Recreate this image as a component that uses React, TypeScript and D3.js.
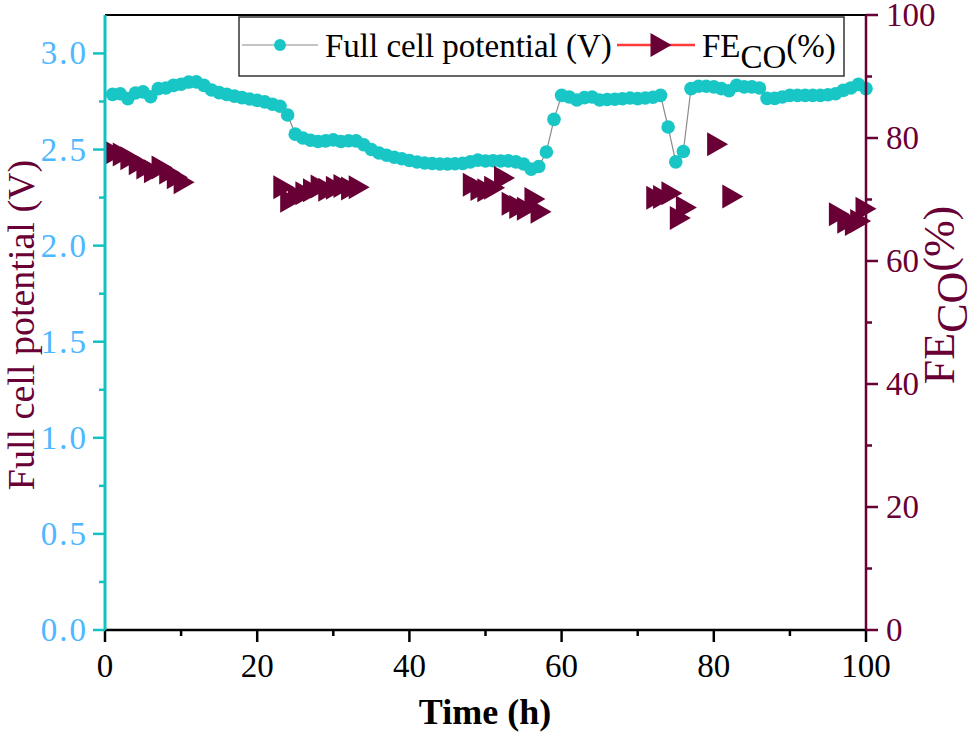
import React from 'react';
import * as d3 from 'd3';

// Full cell potential (V), hourly readings
const potTime = [
  1, 2, 3, 4, 5, 6, 7, 8, 9, 10, 11, 12, 13, 14, 15, 16, 17, 18, 19, 20,
  21, 22, 23, 24, 25, 26, 27, 28, 29, 30, 31, 32, 33, 34, 35, 36, 37, 38, 39, 40,
  41, 42, 43, 44, 45, 46, 47, 48, 49, 50, 51, 52, 53, 54, 55, 56, 57, 58, 59, 60,
  61, 62, 63, 64, 65, 66, 67, 68, 69, 70, 71, 72, 73, 74, 75, 76, 77, 78, 79, 80,
  81, 82, 83, 84, 85, 86, 87, 88, 89, 90, 91, 92, 93, 94, 95, 96, 97, 98, 99, 100,
];
const potV = [
  2.787, 2.79, 2.765, 2.794, 2.8, 2.775, 2.817, 2.82, 2.834, 2.84,
  2.851, 2.852, 2.834, 2.81, 2.796, 2.787, 2.778, 2.77, 2.763, 2.756,
  2.748, 2.736, 2.725, 2.68, 2.58, 2.56, 2.548, 2.542, 2.545, 2.55,
  2.542, 2.546, 2.545, 2.525, 2.5, 2.482, 2.47, 2.46, 2.452, 2.443,
  2.435, 2.43, 2.427, 2.425, 2.425, 2.426, 2.428, 2.436, 2.445, 2.44,
  2.442, 2.44, 2.441, 2.436, 2.425, 2.398, 2.412, 2.487, 2.657, 2.782,
  2.773, 2.758, 2.77, 2.773, 2.758, 2.76, 2.762, 2.764, 2.768, 2.765,
  2.768, 2.772, 2.782, 2.617, 2.436, 2.49, 2.817, 2.829, 2.829, 2.826,
  2.817, 2.806, 2.834, 2.826, 2.826, 2.82, 2.766, 2.766, 2.773, 2.782,
  2.782, 2.782, 2.782, 2.782, 2.785, 2.79, 2.808, 2.82, 2.839, 2.817,
];

// Faradaic efficiency of CO (%)
const feTime = [
  1.4, 2.4, 3.4, 4.5, 5.5, 6.5, 7.5, 8.5, 9.5, 10.4,
  23.5, 24.4, 25.4, 26.4, 27.4, 28.4, 29.4, 30.4, 31.4, 32.4, 33.4,
  48.4, 49.4, 50.3, 51.2, 52.5, 53.5, 54.5, 55.5, 56.5, 57.3,
  72.5, 73.4, 74.5, 75.6, 76.4, 80.5, 82.5,
  96.5, 97.6, 98.6, 99.3, 100,
];
const feVal = [
  77.6, 77.3, 76.7, 75.9, 75.2, 74.6, 75.2, 74.4, 73.6, 72.8,
  72.0, 69.8, 70.6, 71.0, 71.5, 72.1, 71.6, 71.9, 72.2, 71.8, 72.0,
  72.4, 71.7, 71.5, 71.9, 73.5, 69.3, 68.8, 68.5, 70.1, 68.0,
  70.3, 70.4, 71.0, 67.0, 68.7, 79.0, 70.5,
  67.6, 66.4, 66.0, 66.5, 68.5,
];

const xTicks = [0, 20, 40, 60, 80, 100];
const xMinor = [10, 30, 50, 70, 90];
const leftTicks = [0, 0.5, 1.0, 1.5, 2.0, 2.5, 3.0];
const leftMinor = [0.25, 0.75, 1.25, 1.75, 2.25, 2.75];
const rightTicks = [0, 20, 40, 60, 80, 100];
const rightMinor = [10, 30, 50, 70, 90];

const FONT = '"Liberation Serif", "Times New Roman", serif';
const CYAN = '#19c6c6';
const CYAN_AXIS = '#12c2c2';
const BLUE_LABEL = '#4db8ff';
const MAROON = '#680036';
const RED = '#ff3b3b';

export default function App() {
  const left = 105, right = 866, top = 15, bottom = 630;
  const x = d3.scaleLinear().domain([0, 100]).range([left, right]);
  const yL = d3.scaleLinear().domain([0, 3.2]).range([bottom, top]);
  const yR = d3.scaleLinear().domain([0, 100]).range([bottom, top]);

  const potPts: [number, number][] = potTime.map((t, i) => [x(t), yL(potV[i])]);
  const linePath = d3.line()(potPts) || '';
  const tri = 'M-10.5,-12L10.5,0L-10.5,12Z';
  const major = 12, minor = 6;

  return (
    <svg width={980} height={735} style={{ position: 'absolute', left: 0, top: 0, background: '#fff' }}
      fontFamily={FONT}>
      <rect x={0} y={0} width={980} height={735} fill="#fff" />
      {/* top frame */}
      <line x1={left} x2={right} y1={top} y2={top} stroke="#000" strokeWidth={2} />

      {/* data: potential */}
      <path d={linePath} fill="none" stroke="#8a8a8a" strokeWidth={1.2} />
      {potPts.map((p, i) => (
        <circle key={'c' + i} cx={p[0]} cy={p[1]} r={6.8} fill={CYAN} />
      ))}
      {/* data: FE */}
      {feTime.map((t, i) => (
        <path key={'t' + i} d={tri} transform={`translate(${x(t)},${yR(feVal[i])})`} fill={MAROON} />
      ))}

      {/* bottom axis */}
      <line x1={left} x2={right} y1={bottom} y2={bottom} stroke="#000" strokeWidth={2.5} />
      {xTicks.map(t => (
        <g key={'xt' + t}>
          <line x1={x(t)} x2={x(t)} y1={bottom} y2={bottom + major} stroke="#000" strokeWidth={2.5} />
          <text x={x(t)} y={677} fontSize={33} textAnchor="middle" fill="#000">{t}</text>
        </g>
      ))}
      {xMinor.map(t => (
        <line key={'xm' + t} x1={x(t)} x2={x(t)} y1={bottom} y2={bottom + minor} stroke="#000" strokeWidth={2.5} />
      ))}
      <text x={485} y={724} fontSize={36} fontWeight="bold" textAnchor="middle" fill="#000">Time (h)</text>

      {/* left axis */}
      <line x1={left} x2={left} y1={top} y2={bottom} stroke={CYAN_AXIS} strokeWidth={3} />
      {leftTicks.map(v => (
        <g key={'lt' + v}>
          <line x1={left - major} x2={left} y1={yL(v)} y2={yL(v)} stroke={CYAN_AXIS} strokeWidth={2.5} />
          <text x={88} y={yL(v) + 11} fontSize={33} textAnchor="end" fill={BLUE_LABEL} letterSpacing="2px">
            {v.toFixed(1)}
          </text>
        </g>
      ))}
      {leftMinor.map(v => (
        <line key={'lm' + v} x1={left - minor} x2={left} y1={yL(v)} y2={yL(v)} stroke={CYAN_AXIS} strokeWidth={2.5} />
      ))}
      <text transform={`translate(34,325) rotate(-90)`} fontSize={38} textAnchor="middle" fill={MAROON}>
        Full cell potential (V)
      </text>

      {/* right axis */}
      <line x1={right} x2={right} y1={top} y2={bottom} stroke={MAROON} strokeWidth={2.5} />
      {rightTicks.map(v => (
        <g key={'rt' + v}>
          <line x1={right} x2={right + major} y1={yR(v)} y2={yR(v)} stroke={MAROON} strokeWidth={2.5} />
          <text x={886} y={yR(v) + 11} fontSize={33} textAnchor="start" fill={MAROON}>{v}</text>
        </g>
      ))}
      {rightMinor.map(v => (
        <line key={'rm' + v} x1={right} x2={right + minor} y1={yR(v)} y2={yR(v)} stroke={MAROON} strokeWidth={2.5} />
      ))}
      <text transform={`translate(954,295) rotate(-90)`} fontSize={44} textAnchor="middle" fill={MAROON}>
        FE<tspan dy={13}>CO</tspan><tspan dy={-13}>(%)</tspan>
      </text>

      {/* legend */}
      <rect x={239} y={17} width={605} height={59} fill="#fff" stroke="#333" strokeWidth={1.5} />
      <line x1={242} x2={318} y1={45} y2={45} stroke="#8a8a8a" strokeWidth={1.2} />
      <circle cx={280} cy={45} r={6} fill={CYAN} />
      <text x={325} y={57} fontSize={33} fill="#000">Full cell potential (V)</text>
      <line x1={617} x2={695} y1={45} y2={45} stroke={RED} strokeWidth={2.5} />
      <path d={tri} transform="translate(661,45)" fill={MAROON} />
      <text x={702} y={57} fontSize={33} fill="#000">
        FE<tspan dy={11}>CO</tspan><tspan dy={-11}>(%)</tspan>
      </text>
    </svg>
  );
}
